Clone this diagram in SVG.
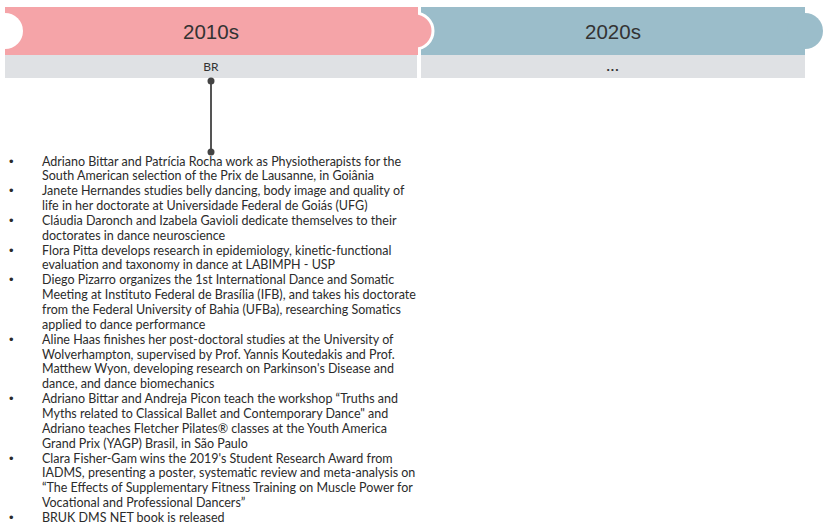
<svg xmlns="http://www.w3.org/2000/svg" width="826" height="526" viewBox="0 0 826 526">
<style>
.hdr{font-family:"Liberation Sans",Arial,sans-serif;font-size:20.5px;fill:#333;text-anchor:middle}
.sub{font-family:"Lato","Open Sans",sans-serif;font-size:12px;fill:#333;text-anchor:middle}
.txt{font-family:"Lato","Open Sans",sans-serif;font-size:12.5px;fill:#2b2b2b}
.bul{font-family:"Liberation Sans",sans-serif;font-size:13px;fill:#2b2b2b}
</style>
<rect width="826" height="526" fill="#ffffff"/>
<g id="decade-2020s">
<rect x="421" y="7" width="384" height="48" fill="#9BBDCA"/>
<circle cx="805" cy="31" r="18" fill="#9BBDCA"/>
<rect x="421" y="55" width="384" height="23" fill="#DFE1E4"/>
<text class="hdr" x="613" y="39">2020s</text>
<text class="sub" x="613" y="71" style="font-weight:bold;font-size:14px;letter-spacing:1px">...</text>
</g>
<g id="decade-2010s">
<circle cx="415" cy="31" r="18" fill="#F5A4A8" stroke="#ffffff" stroke-width="3"/>
<rect x="5" y="7" width="413" height="48" fill="#F5A4A8"/>
<circle cx="5" cy="31" r="18" fill="#ffffff"/>
<rect x="5" y="55" width="412" height="23" fill="#DFE1E4"/>
<text class="hdr" x="211" y="39">2010s</text>
<text class="sub" x="211" y="71">BR</text>
</g>
<g id="connectors">
<line x1="211" y1="81" x2="211" y2="152" stroke="#555" stroke-width="2"/>
<circle cx="211" cy="81" r="3.5" fill="#444"/>
<circle cx="211" cy="152" r="3.5" fill="#444"/>
</g>
<g id="events">
<g class="bul">
<text x="9" y="165.5">•</text><text x="9" y="195.2">•</text><text x="9" y="224.9">•</text><text x="9" y="254.6">•</text><text x="9" y="284.3">•</text><text x="9" y="343.7">•</text><text x="9" y="403.1">•</text><text x="9" y="462.5">•</text><text x="9" y="521.9">•</text>
</g>
<g class="txt">
<text x="42" y="165.5">Adriano Bittar and Patrícia Rocha work as Physiotherapists for the</text>
<text x="42" y="180.35">South American selection of the Prix de Lausanne, in Goiânia</text>
<text x="42" y="195.2">Janete Hernandes studies belly dancing, body image and quality of</text>
<text x="42" y="210.05">life in her doctorate at Universidade Federal de Goiás (UFG)</text>
<text x="42" y="224.9">Cláudia Daronch and Izabela Gavioli dedicate themselves to their</text>
<text x="42" y="239.75">doctorates in dance neuroscience</text>
<text x="42" y="254.6">Flora Pitta develops research in epidemiology, kinetic-functional</text>
<text x="42" y="269.45">evaluation and taxonomy in dance at LABIMPH - USP</text>
<text x="42" y="284.3">Diego Pizarro organizes the 1st International Dance and Somatic</text>
<text x="42" y="299.15">Meeting at Instituto Federal de Brasília (IFB), and takes his doctorate</text>
<text x="42" y="314">from the Federal University of Bahia (UFBa), researching Somatics</text>
<text x="42" y="328.85">applied to dance performance</text>
<text x="42" y="343.7">Aline Haas finishes her post-doctoral studies at the University of</text>
<text x="42" y="358.55">Wolverhampton, supervised by Prof. Yannis Koutedakis and Prof.</text>
<text x="42" y="373.4">Matthew Wyon, developing research on Parkinson's Disease and</text>
<text x="42" y="388.25">dance, and dance biomechanics</text>
<text x="42" y="403.1">Adriano Bittar and Andreja Picon teach the workshop “Truths and</text>
<text x="42" y="417.95">Myths related to Classical Ballet and Contemporary Dance" and</text>
<text x="42" y="432.8">Adriano teaches Fletcher Pilates® classes at the Youth America</text>
<text x="42" y="447.65">Grand Prix (YAGP) Brasil, in São Paulo</text>
<text x="42" y="462.5">Clara Fisher-Gam wins the 2019's Student Research Award from</text>
<text x="42" y="477.35">IADMS, presenting a poster, systematic review and meta-analysis on</text>
<text x="42" y="492.2">“The Effects of Supplementary Fitness Training on Muscle Power for</text>
<text x="42" y="507.05">Vocational and Professional Dancers”</text>
<text x="42" y="521.9">BRUK DMS NET book is released</text>
</g>
</g>
</svg>
